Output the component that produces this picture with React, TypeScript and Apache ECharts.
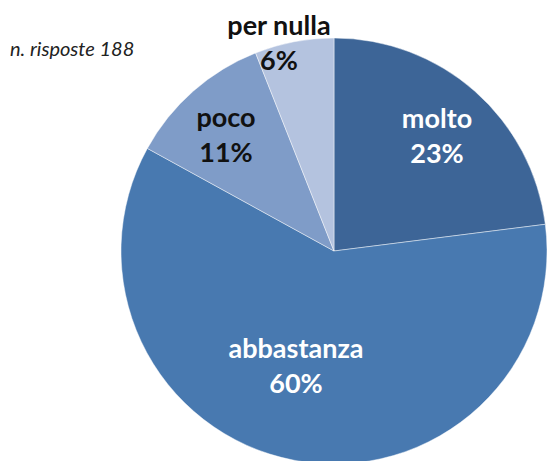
import React, { useEffect, useRef } from "react";
import * as echarts from "echarts";

const categories = ["molto", "abbastanza", "poco", "per nulla"];
const values = [23, 60, 11, 6];
const colors = ["#3D6597", "#4879B0", "#7F9CC8", "#B4C3DF"];
const labelColors = ["#FFFFFF", "#FFFFFF", "#111111", "#111111"];
const labelPos: [number, number][] = [
  [437, 135],
  [296, 365],
  [226, 134],
  [279, 42],
];
const noteText = "n. risposte 188";

export default function App() {
  const ref = useRef<HTMLDivElement>(null);
  useEffect(() => {
    document.body.style.margin = "0";
    if (!ref.current) return;
    const chart = echarts.init(ref.current, undefined, { renderer: "svg" });
    chart.setOption({
      animation: false,
      backgroundColor: "#FFFFFF",
      graphic: [
        {
          type: "text",
          left: 10,
          top: 38,
          style: {
            text: noteText,
            font: "italic 20px Lato",
            fill: "#222222",
          },
        },
      ],
      series: [
        {
          type: "pie",
          center: [334, 251],
          radius: [0, 213],
          startAngle: 90,
          clockwise: true,
          itemStyle: { borderColor: "rgba(255,255,255,0.45)", borderWidth: 1 },
          label: {
            show: true,
            position: "inside",
            fontFamily: "Lato",
            fontWeight: "bold",
            fontSize: 27,
            lineHeight: 35,
            align: "center",
            verticalAlign: "middle",
            formatter: (p: any) => `${p.name}\n${p.value}%`,
          },
          labelLine: { show: false },
          labelLayout: (p: any) => ({
            x: labelPos[p.dataIndex][0],
            y: labelPos[p.dataIndex][1],
            align: "center",
            verticalAlign: "middle",
          }),
          emphasis: { disabled: true },
          data: categories.map((c, i) => ({
            name: c,
            value: values[i],
            itemStyle: { color: colors[i] },
            label: { color: labelColors[i] },
          })),
        },
      ],
    });
    return () => chart.dispose();
  }, []);
  return <div ref={ref} style={{ width: 547, height: 461 }} />;
}
